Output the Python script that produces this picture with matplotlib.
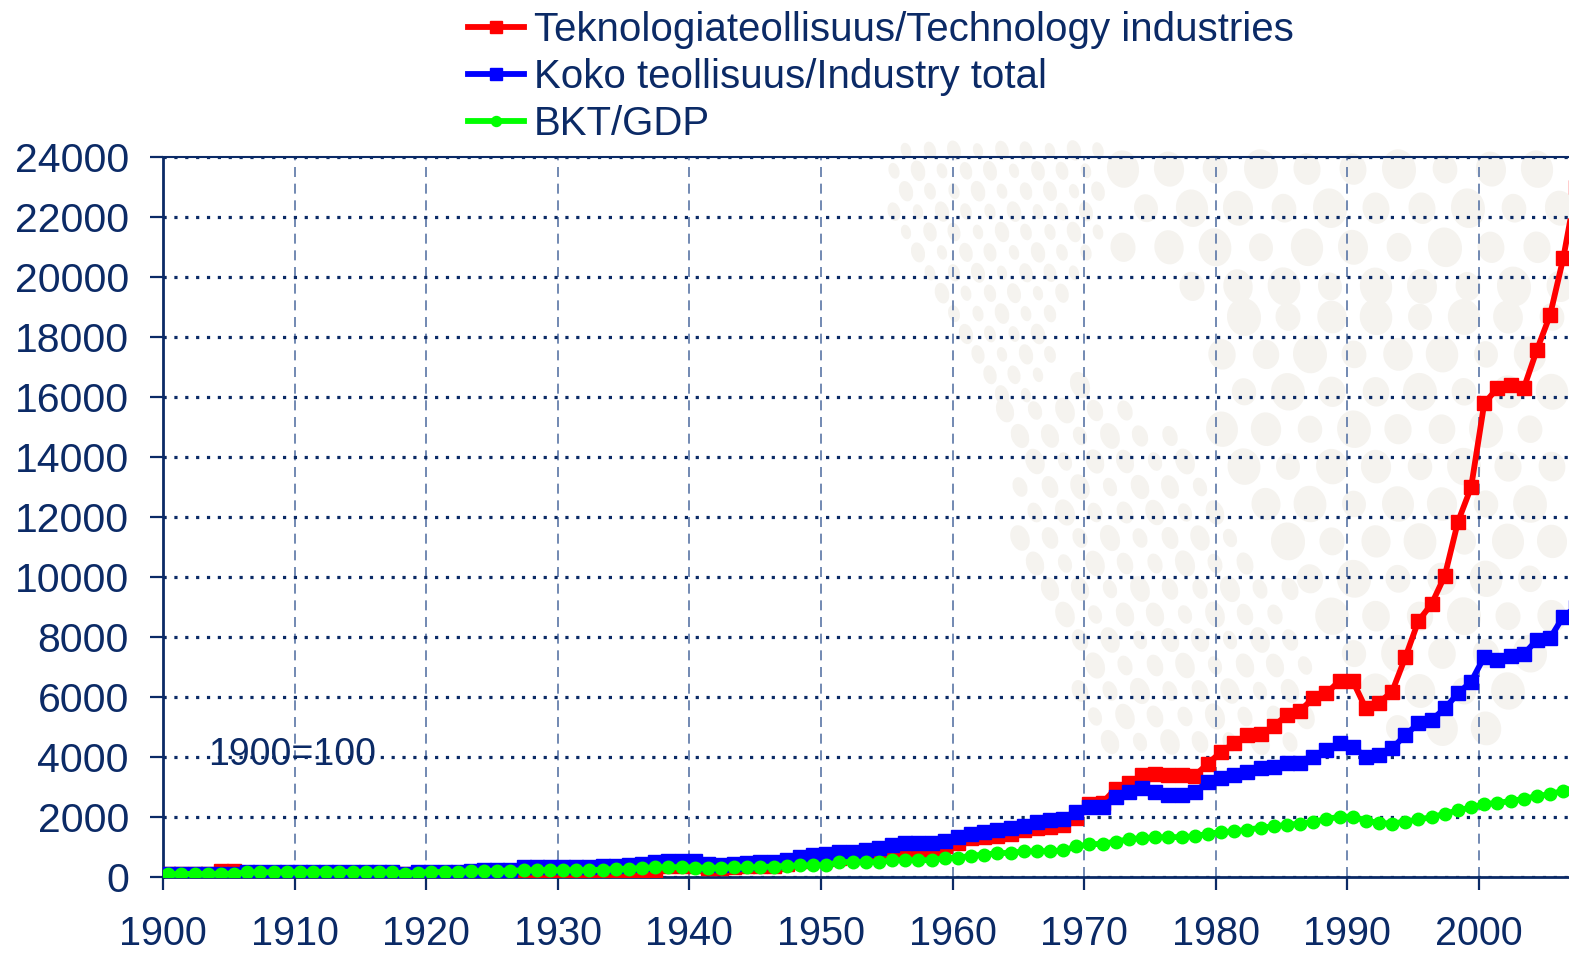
import matplotlib.pyplot as plt
import numpy as np
from matplotlib.patches import Ellipse
from matplotlib.path import Path

# Indeksit, 1900=100
years = np.arange(1900, 2008)

tech = [100, 100, 105, 110, 190, 195, 150, 150, 120, 80,
        130, 140, 150, 150, 80, 130, 150, 140, 90, 80,
        80, 80, 85, 170, 170, 135, 135, 135, 135, 135,
        135, 130, 130, 135, 140, 145, 190, 200, 355, 360,
        355, 300, 300, 350, 355, 355, 360, 440, 520, 580,
        590, 640, 680, 700, 740, 800, 850, 860, 860, 1020,
        1130, 1300, 1330, 1355, 1430, 1575, 1630, 1660, 1740, 1960,
        2420, 2480, 2950, 3140, 3400, 3420, 3400, 3390, 3380, 3780,
        4170, 4460, 4740, 4760, 5030, 5400, 5540, 5960, 6120, 6540,
        6540, 5620, 5810, 6180, 7320, 8540, 9100, 10040, 11840, 12990,
        15790, 16290, 16400, 16290, 17570, 18730, 20620, 23000]

industry = [100, 98, 96, 102, 108, 112, 165, 170, 168, 172,
            175, 178, 180, 182, 175, 170, 172, 165, 110, 160,
            165, 170, 175, 210, 220, 240, 250, 330, 340, 350,
            350, 340, 345, 360, 380, 410, 450, 490, 545, 550,
            520, 420, 410, 420, 480, 490, 500, 580, 660, 740,
            770, 840, 845, 900, 965, 1065, 1140, 1145, 1150, 1210,
            1340, 1430, 1510, 1580, 1635, 1715, 1820, 1890, 1930, 2160,
            2340, 2350, 2680, 2840, 2960, 2840, 2730, 2730, 2840, 3180,
            3290, 3400, 3510, 3620, 3680, 3790, 3790, 4010, 4230, 4460,
            4340, 4010, 4070, 4290, 4730, 5120, 5230, 5620, 6120, 6510,
            7340, 7230, 7370, 7430, 7900, 7960, 8680, 9000]

gdp = [100, 100, 102, 104, 108, 112, 155, 160, 158, 162,
       165, 168, 172, 175, 168, 165, 170, 160, 110, 150,
       165, 168, 175, 190, 195, 205, 212, 220, 230, 232,
       230, 228, 230, 240, 265, 275, 300, 320, 330, 325,
       315, 310, 310, 320, 325, 330, 350, 370, 385, 390,
       395, 495, 500, 495, 500, 555, 560, 560, 560, 630,
       640, 710, 745, 795, 805, 855, 858, 862, 885, 1020,
       1085, 1110, 1180, 1260, 1300, 1320, 1330, 1330, 1360, 1440,
       1500, 1520, 1580, 1640, 1690, 1740, 1780, 1840, 1930, 2010,
       2010, 1880, 1800, 1780, 1850, 1920, 1990, 2110, 2220, 2320,
       2440, 2460, 2540, 2600, 2700, 2760, 2880, 2980]

labels = ['Teknologiateollisuus/Technology industries',
          'Koko teollisuus/Industry total',
          'BKT/GDP']

navy = '#0b2a66'
plt.rcParams['font.family'] = ['Liberation Sans', 'DejaVu Sans']

W, H = 1569, 956
fig = plt.figure(figsize=(W / 100, H / 100), dpi=100)

# taustan vaalea pallokuvio (logo), pikseleinä
def dots(poly, step, w, h, angle):
    path = Path([(x, H - y) for x, y in poly])
    ys = np.arange(130, 780, step * 0.85)
    for i, yy in enumerate(ys):
        xx = np.arange(870 + (i % 2) * step / 2, W + step, step)
        for j, x in enumerate(xx):
            if path.contains_point((x, H - yy)):
                k = 0.85 + 0.15 * np.sin(i * 1.7 + j * 2.3)
                fig.patches.append(Ellipse((x / 100, (H - yy) / 100), w * k / 100, h * k / 100,
                                           angle=angle, color='#f5f3ef', lw=0, zorder=-1,
                                           transform=fig.dpi_scale_trans))

dots([(887, 137), (1110, 137), (1100, 250), (1060, 330), (1045, 410), (985, 410),
      (960, 330), (900, 260), (887, 200)], 24, 14, 21, 15)
dots([(1000, 400), (1090, 380), (1180, 430), (1230, 520), (1300, 600), (1320, 700),
      (1300, 765), (1100, 765), (1060, 650), (1010, 520)], 30, 19, 27, 20)
dots([(1110, 137), (1569, 137), (1569, 300), (1450, 320), (1300, 300), (1180, 300),
      (1120, 250)], 46, 34, 40, 10)
dots([(1200, 310), (1569, 300), (1569, 660), (1480, 750), (1380, 750), (1330, 650),
      (1250, 520), (1200, 430)], 44, 34, 38, 10)

ax = fig.add_axes([163 / W, 79 / H, 1 - 163 / W, 720 / H])
ax.patch.set_alpha(0)

# Excel-kategoria-akseli: pisteet hieman vuoden viivan oikealla puolella
xs = years + 0.4
ax.plot(xs, tech, color='#ff0000', lw=4.2, marker='s', ms=10.5, mec='#ff0000', zorder=3, label=labels[0])
ax.plot(xs, industry, color='#0000ff', lw=4.2, marker='s', ms=10.5, mec='#0000ff', zorder=4, label=labels[1])
ax.plot(xs, gdp, color='#00ff00', lw=4.2, marker='o', ms=9, mec='#00ff00', zorder=5, label=labels[2])

ax.set_xlim(1900, 1900 + (W - 163) / 13.16)
ax.set_ylim(0, 24000)
ax.set_xticks(np.arange(1900, 2001, 10))
ax.set_yticks(np.arange(0, 24001, 2000))

ax.yaxis.grid(True, color=navy, lw=2.3, linestyle=(0, (1, 2.4)), dash_capstyle='butt')
ax.xaxis.grid(True, color='#5a76a6', lw=1.2, linestyle=(0, (6, 4)))
ax.set_axisbelow(True)

for s in ['left', 'bottom']:
    ax.spines[s].set_color(navy)
    ax.spines[s].set_linewidth(2.0)
ax.spines['top'].set_color(navy)
ax.spines['top'].set_linewidth(1.5)
ax.spines['right'].set_visible(False)

ax.tick_params(axis='both', direction='out', length=9.5, width=1.6, color=navy,
               labelcolor=navy, labelsize=29.5)
ax.tick_params(axis='x', labelsize=28.5, pad=18)
ax.tick_params(axis='y', pad=15)

ax.text(1903.4, 4070, '1900=100', color=navy, fontsize=27, ha='left', va='center', zorder=6)

fig.legend(loc='upper left', bbox_to_anchor=(468 / W, 1 - 11 / H), frameon=False,
           fontsize=29, labelcolor=navy, handlelength=1.38, handletextpad=0.26,
           labelspacing=0.22, borderpad=0, borderaxespad=0, numpoints=1, markerscale=0.8)

fig.savefig('out.png', dpi=100)
